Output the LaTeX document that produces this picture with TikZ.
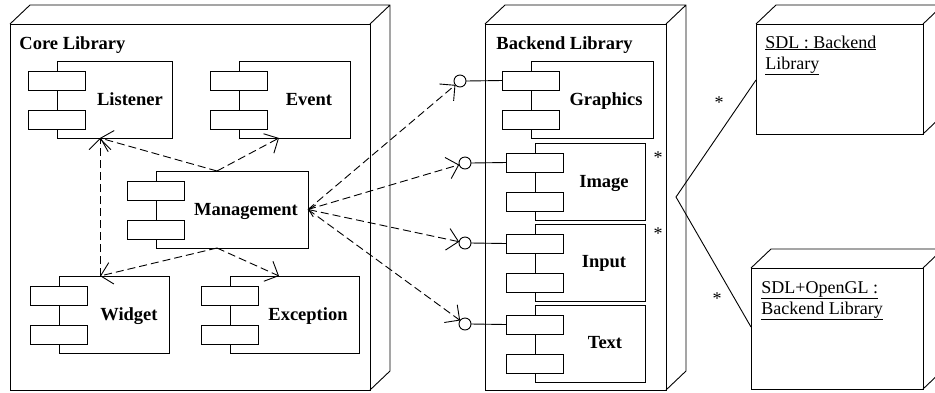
\documentclass[tikz,border=0pt]{standalone}
\usepackage{fontspec}
\setmainfont{Liberation Serif}
\usetikzlibrary{arrows.meta,fit,calc}
\newcommand\nodebox[5]{%
  \node[frontbox, fit={(#2,#3)(#4,#5)}] (#1) {};
  \draw[line join=round] (#1.north west) -- ++(20,-19) -- ($(#1.north east)+(20,-19)$) -- (#1.north east)
     ($(#1.north east)+(20,-19)$) -- ($(#1.south east)+(20,-19)$) -- (#1.south east);
}
\newcommand\compo[7]{%
  \node[cbox, fit={(#2,#3)(#4,#3+77)}] (#1) {};
  \node[cbox, fit={(#2-29,#3+10)(#2+28,#3+29)}] (#1a) {};
  \node[cbox, fit={(#2-29,#3+49)(#2+28,#3+68)}] (#1b) {};
  \node[lbl, anchor=base] (#1l) at (#6,#7) {#5};
}
\begin{document}
\begin{tikzpicture}[x=1pt,y=-1pt,line width=0.9pt,
  frontbox/.style={draw,fill=white,inner sep=0pt,outer sep=0pt},
  cbox/.style={draw,fill=white,inner sep=0pt,outer sep=0pt},
  lbl/.style={inner sep=0pt,font=\fontsize{18.5}{21}\selectfont\bfseries},
  plain/.style={inner sep=0pt,font=\fontsize{18}{21}\selectfont},
  lolli/.style={draw,fill=white,circle,minimum size=12pt,inner sep=0pt,outer sep=0pt},
  dep/.style={dash pattern=on 8pt off 4pt,-{Straight Barb[length=11pt,width=22pt]}},
  star/.style={inner sep=0pt,font=\fontsize{18}{21}\selectfont}]
\fill[white] (0,0) rectangle (935,392);
\useasboundingbox (0,0) rectangle (935,392);

\nodebox{core}{10}{24}{370}{390}
\nodebox{backend}{485}{24}{666}{390}
\nodebox{sdl}{756}{24}{923}{134}
\nodebox{ogl}{751}{268}{923}{389}

\node[lbl, anchor=base west] (coretitle) at (19,49) {Core Library};
\node[lbl, anchor=base west] (backtitle) at (496,49) {Backend Library};
\node[plain, anchor=base west] (sdlA) at (765,48) {\underline{SDL : Backend}};
\node[plain, anchor=base west] (sdlB) at (765,69) {\underline{Library}};
\node[plain, anchor=base west] (oglA) at (761,293) {\underline{SDL+OpenGL :}};
\node[plain, anchor=base west] (oglB) at (761,314) {\underline{Backend Library}};

\compo{listener}{57}{61}{172}{Listener}{130}{105}
\compo{event}{239}{61}{350}{Event}{309}{105}
\compo{mgmt}{156}{171}{308}{Management}{246}{215}
\compo{widget}{59}{276}{169}{Widget}{129}{320}
\compo{exception}{230}{276}{359}{Exception}{308}{320}
\compo{graphics}{531}{61}{653}{Graphics}{606}{105}
\compo{image}{535}{143}{645}{Image}{604}{187}
\compo{input}{535}{224}{645}{Input}{604}{267}
\compo{text}{535}{305}{645}{Text}{605}{348}

\node[lolli] (lg) at (460,81) {};
\node[lolli] (li) at (465,163) {};
\node[lolli] (ln) at (465,243) {};
\node[lolli] (lt) at (465,324) {};
\draw (lg.east) -- (graphicsa.west);
\draw (li.east) -- (imagea.west);
\draw (ln.east) -- (inputa.west);
\draw (lt.east) -- (texta.west);

\draw[dep] (mgmt.east) -- (lg);
\draw[dep] (mgmt.east) -- (li);
\draw[dep,{Straight Barb[length=6pt,width=12pt]}-{Straight Barb[length=11pt,width=22pt]}] (mgmt.east) -- (ln);
\draw[dep] (mgmt.east) -- (lt);

\draw[dep] ($(mgmt.north west)+(61,0)$) -- ($(listener.south west)+(43,0)$);
\draw[dep] ($(mgmt.north west)+(61,0)$) -- ($(event.south west)+(40,0)$);
\draw[dep] ($(mgmt.south west)+(61,0)$) -- ($(widget.north west)+(41,0)$);
\draw[dep] ($(mgmt.south west)+(61,0)$) -- ($(exception.north west)+(49,0)$);
\draw[dep] ($(widget.north west)+(41,0)$) -- ($(listener.south west)+(43,0)$);

\coordinate (gv) at (676,197);
\draw ($(sdl.north west)+(0,56)$) -- (gv) -- ($(ogl.north west)+(0,59)$);

\node[star] (s1) at (658,158) {*};
\node[star] (s2) at (658,234) {*};
\node[star] (s3) at (719,103) {*};
\node[star] (s4) at (717,299) {*};
\end{tikzpicture}
\end{document}
